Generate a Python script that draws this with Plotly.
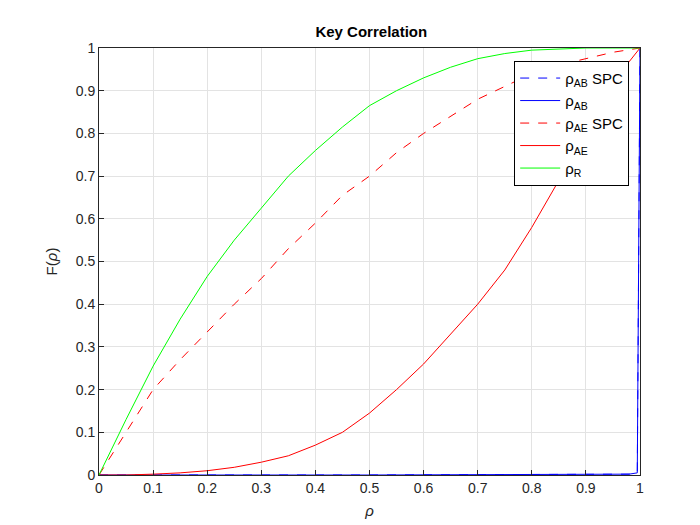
import plotly.graph_objects as go

rho = [0, 0.05, 0.1, 0.15, 0.2, 0.25, 0.3, 0.35, 0.4, 0.45, 0.5, 0.55, 0.6, 0.65, 0.7, 0.75, 0.8, 0.85, 0.9, 0.95, 1.0]
f_r = [0, 0.13, 0.255, 0.365, 0.465, 0.55, 0.625, 0.70, 0.76, 0.815, 0.865, 0.90, 0.93, 0.955, 0.975, 0.987, 0.995, 0.998, 1.0, 1.0, 1.0]
f_ae_spc = [0, 0.10, 0.20, 0.27, 0.335, 0.40, 0.46, 0.53, 0.59, 0.655, 0.70, 0.755, 0.80, 0.84, 0.88, 0.91, 0.94, 0.96, 0.975, 0.99, 1.0]
f_ae = [0, 0.0, 0.002, 0.005, 0.01, 0.018, 0.03, 0.045, 0.07, 0.10, 0.145, 0.20, 0.26, 0.33, 0.40, 0.48, 0.58, 0.69, 0.80, 0.92, 1.0]
rho_ab = [0, 0.5, 0.98, 0.995, 1.0]
f_ab = [0, 0, 0.002, 0.005, 1.0]

fig = go.Figure()
fig.add_trace(go.Scatter(x=rho_ab, y=f_ab, mode="lines", name="ρ<sub>AB</sub> SPC",
                         line=dict(color="blue", width=1, dash="dash")))
fig.add_trace(go.Scatter(x=rho_ab, y=f_ab, mode="lines", name="ρ<sub>AB</sub>",
                         line=dict(color="blue", width=1)))
fig.add_trace(go.Scatter(x=rho, y=f_ae_spc, mode="lines", name="ρ<sub>AE</sub> SPC",
                         line=dict(color="red", width=1, dash="dash")))
fig.add_trace(go.Scatter(x=rho, y=f_ae, mode="lines", name="ρ<sub>AE</sub>",
                         line=dict(color="red", width=1)))
fig.add_trace(go.Scatter(x=rho, y=f_r, mode="lines", name="ρ<sub>R</sub>",
                         line=dict(color="#00ff00", width=1)))

ticks = [i / 10 for i in range(11)]
ticktext = ["0", "0.1", "0.2", "0.3", "0.4", "0.5", "0.6", "0.7", "0.8", "0.9", "1"]
axis = dict(range=[0, 1], tickvals=ticks, ticktext=ticktext, showgrid=True, gridcolor="#e3e3e3",
            showline=True, linecolor="#262626", mirror=True, ticks="inside", ticklen=5,
            tickcolor="#262626", zeroline=False, automargin=False,
            tickfont=dict(size=14, color="#262626"))
fig.update_layout(
    width=700, height=525, template="plotly_white",
    paper_bgcolor="white", plot_bgcolor="white",
    font=dict(family="Liberation Sans, Arial", color="#262626"),
    title=dict(text="<b>Key Correlation</b>", x=0.519, xanchor="center", y=0.955, yanchor="middle",
               font=dict(size=15, color="black")),
    margin=dict(l=91, r=68, t=40, b=58, autoexpand=False),
    xaxis=dict(axis, title=dict(text="<i>ρ</i>", font=dict(size=15), standoff=10)),
    yaxis=dict(axis, title=dict(text="F(<i>ρ</i>)", font=dict(size=15), standoff=14)),
    legend=dict(x=0.98, y=0.97, xanchor="right", yanchor="top", bgcolor="white",
                bordercolor="black", borderwidth=1, font=dict(size=15, color="black"),
                tracegroupgap=0, itemwidth=40),
    showlegend=True,
)
fig.write_html("out.html")
